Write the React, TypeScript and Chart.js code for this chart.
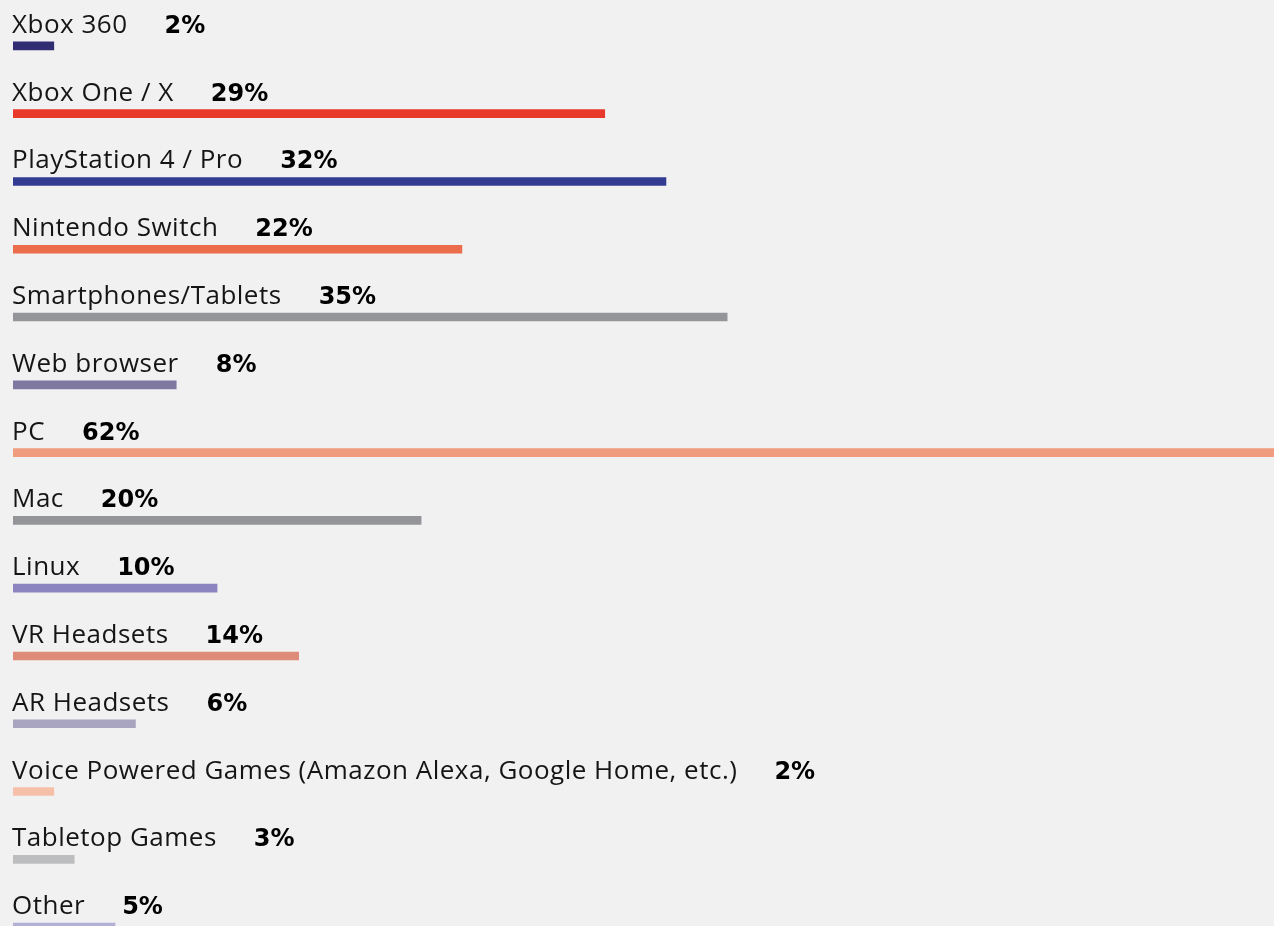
import React, { useEffect, useRef } from "react";
import { Chart, registerables } from "chart.js";

Chart.register(...registerables);

const categories = [
  "Xbox 360",
  "Xbox One / X",
  "PlayStation 4 / Pro",
  "Nintendo Switch",
  "Smartphones/Tablets",
  "Web browser",
  "PC",
  "Mac",
  "Linux",
  "VR Headsets",
  "AR Headsets",
  "Voice Powered Games (Amazon Alexa, Google Home, etc.)",
  "Tabletop Games",
  "Other",
];

const values = [2, 29, 32, 22, 35, 8, 62, 20, 10, 14, 6, 2, 3, 5];

const valueLabels = ["2%", "29%", "32%", "22%", "35%", "8%", "62%", "20%", "10%", "14%", "6%", "2%", "3%", "5%"];

const barColors = [
  "#302d72",
  "#e8392b",
  "#333b93",
  "#ec6d4c",
  "#939598",
  "#7f79a1",
  "#ef9c7f",
  "#939598",
  "#8b84c0",
  "#df8b79",
  "#a9a4c0",
  "#f6c0a8",
  "#bcbdbf",
  "#b3b0d8",
];

const LABEL_FONT = "400 26px 'Open Sans', 'Noto Sans', sans-serif";
const VALUE_FONT = "bold 24px 'DejaVu Sans', sans-serif";

const rowLabelPlugin = {
  id: "rowLabels",
  afterDatasetsDraw(chart: any) {
    const ctx = chart.ctx as any;
    const meta = chart.getDatasetMeta(0);
    const left = chart.chartArea.left - 1;
    ctx.save();
    ctx.textBaseline = "alphabetic";
    ctx.textAlign = "left";
    meta.data.forEach((bar: any, i: number) => {
      const y = bar.y - 13;
      ctx.font = LABEL_FONT;
      ctx.letterSpacing = "0.5px";
      ctx.fillStyle = "#151515";
      ctx.fillText(categories[i], left, y);
      const w = ctx.measureText(categories[i]).width;
      ctx.font = VALUE_FONT;
      ctx.letterSpacing = "0px";
      ctx.fillStyle = "#000000";
      ctx.fillText(valueLabels[i], left + w + 37, y);
    });
    ctx.restore();
  },
};

export default function App() {
  const canvasRef = useRef<HTMLCanvasElement | null>(null);

  useEffect(() => {
    if (!canvasRef.current) return;
    const chart = new Chart(canvasRef.current, {
      type: "bar",
      data: {
        labels: categories,
        datasets: [
          {
            data: values,
            backgroundColor: barColors,
            borderWidth: 0,
            barThickness: 8,
          },
        ],
      },
      options: {
        indexAxis: "y",
        responsive: false,
        animation: false,
        layout: { padding: { left: 13, right: 0, top: 12, bottom: 9 } },
        plugins: {
          legend: { display: false },
          tooltip: { enabled: false },
        },
        scales: {
          x: { display: false, min: 0, max: 61.8 },
          y: { display: false, offset: true },
        },
      },
      plugins: [rowLabelPlugin],
    });
    return () => chart.destroy();
  }, []);

  return (
    <div
      style={{
        position: "fixed",
        left: 0,
        top: 0,
        width: 1274,
        height: 926,
        overflow: "hidden",
        background: "#f1f1f1",
      }}
    >
      <canvas ref={canvasRef} width={1274} height={970} style={{ display: "block" }} />
    </div>
  );
}
